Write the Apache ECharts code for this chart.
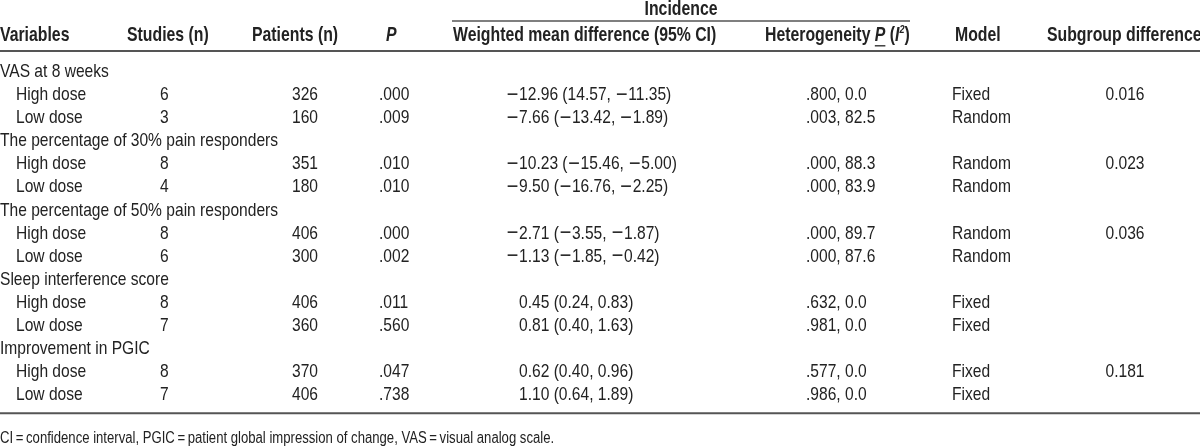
<!DOCTYPE html>
<html><head><meta charset="utf-8">
<script src="https://cdn.jsdelivr.net/npm/echarts@6/dist/echarts.min.js"></script>
<style>html,body{margin:0;padding:0;background:#fff}#c{width:1200px;height:448px}</style>
</head><body><div id="c"></div>
<script>
// ---------- data ----------
const spanHeader = 'Incidence';
const columnHeaders = ['Variables', 'Studies (n)', 'Patients (n)', 'P', 'Weighted mean difference (95% CI)', 'Heterogeneity', 'Model', 'Subgroup difference'];
const outcomes = ['VAS at 8 weeks', 'The percentage of 30% pain responders', 'The percentage of 50% pain responders', 'Sleep interference score', 'Improvement in PGIC'];
const doses = ['High dose', 'Low dose'];
const studies = [[6, 3], [8, 4], [8, 6], [8, 7], [8, 7]];
const patients = [[326, 160], [351, 180], [406, 300], [406, 360], [370, 406]];
const pValues = [['.000', '.009'], ['.010', '.010'], ['.000', '.002'], ['.011', '.560'], ['.047', '.738']];
const wmdEstimate = [[-12.96, -7.66], [-10.23, -9.50], [-2.71, -1.13], [0.45, 0.81], [0.62, 1.10]];
const ciLower = [[14.57, -13.42], [-15.46, -16.76], [-3.55, -1.85], [0.24, 0.40], [0.40, 0.64]];
const ciUpper = [[-11.35, -1.89], [-5.00, -2.25], [-1.87, -0.42], [0.83, 1.63], [0.96, 1.89]];
const hetP = [['.800', '.003'], ['.000', '.000'], ['.000', '.000'], ['.632', '.981'], ['.577', '.986']];
const hetI2 = [[0.0, 82.5], [88.3, 83.9], [89.7, 87.6], [0.0, 0.0], [0.0, 0.0]];
const models = [['Fixed', 'Random'], ['Random', 'Random'], ['Random', 'Random'], ['Fixed', 'Fixed'], ['Fixed', 'Fixed']];
const subgroupDifference = ['0.016', '0.023', '0.036', '', '0.181'];
const footnote = 'CI\u2009=\u2009confidence interval, PGIC\u2009=\u2009patient global impression of change, VAS\u2009=\u2009visual analog scale.';

// ---------- layout (positions / styles) ----------
const FONT = '"Liberation Sans", Arial, sans-serif';
const SX = 0.82; // horizontal condensing of the type
const BODY = '19px ' + FONT;
const HEAD = 'bold 19.3px ' + FONT;
const FOOT = '16px ' + FONT;
const MINUS_FONT = '19px "DejaVu Sans", ' + FONT;
const TXT = '#222';
const RULE = '#555';
const ROW_PX = 23.05, ROW0_PX = 72;
const Y = {span: -2.72, header: -1.57, overline: -2.215, headRule: -0.913, bottomRule: 14.8, foot: 15.9};
const X = {
  varH: 0, studH: 127, patH: 252, pH: 386, wmdH: 453, hetH: 765, modH: 955, subH: 1047,
  label: 0, dose: 16, stud: 160, pat: 292, p: 379, wmd: 506, wmdPosIndent: 13, het: 806, mod: 952, sub: 1125,
  overL: 452, overR: 910
};

const fmt = v => (v < 0 ? '{m|\u2212}' : '') + Math.abs(v).toFixed(2);

const rows = [];
outcomes.forEach((o, g) => {
  rows.push({kind: 'group', g});
  doses.forEach((d, k) => rows.push({kind: 'dose', g, k}));
});

const measure = (() => {
  const ctx = document.createElement('canvas').getContext('2d');
  return (t, f) => { ctx.font = f; return ctx.measureText(t).width * SX; };
})();

function txt(x, y, text, font, align, rich) {
  const style = {text, x: 0, y: 0, font, fill: TXT, textAlign: align || 'left', textVerticalAlign: 'middle'};
  if (rich) style.rich = rich;
  return {type: 'text', x, y, scaleX: SX, scaleY: 1, style};
}

const MINUS_RICH = {m: {font: MINUS_FONT, fill: TXT}};

function renderBody(params, api) {
  const i = api.value(0);
  const r = rows[i];
  const px = (ax) => api.coord([ax, i])[0];
  const y = api.coord([0, i])[1];
  const ch = [];
  if (r.kind === 'group') {
    ch.push(txt(px(X.label), y, outcomes[r.g], BODY));
  } else {
    const g = r.g, k = r.k;
    const est = wmdEstimate[g][k];
    ch.push(txt(px(X.dose), y, doses[k], BODY));
    ch.push(txt(px(X.stud), y, String(studies[g][k]), BODY));
    ch.push(txt(px(X.pat), y, String(patients[g][k]), BODY));
    ch.push(txt(px(X.p), y, pValues[g][k], BODY));
    ch.push(txt(px(X.wmd + (est < 0 ? 0 : X.wmdPosIndent)), y,
      fmt(est) + ' (' + fmt(ciLower[g][k]) + ', ' + fmt(ciUpper[g][k]) + ')', BODY, 'left', MINUS_RICH));
    ch.push(txt(px(X.het), y, hetP[g][k] + ', ' + hetI2[g][k].toFixed(1), BODY));
    ch.push(txt(px(X.mod), y, models[g][k], BODY));
    if (k === 0 && subgroupDifference[g]) ch.push(txt(px(X.sub), y, subgroupDifference[g], BODY, 'center'));
  }
  return {type: 'group', children: ch};
}

function renderFrame(params, api) {
  const c = (ax, ay) => api.coord([ax, ay]);
  const ch = [];
  const line = (x1, x2, yy, w) => {
    const a = c(x1, yy), b = c(x2, yy);
    ch.push({type: 'line', shape: {x1: a[0], y1: a[1], x2: b[0], y2: b[1]}, style: {stroke: RULE, lineWidth: w}});
  };
  line(X.overL, X.overR, Y.overline, 1.4);
  line(0, 1200, Y.headRule, 2);
  line(0, 1200, Y.bottomRule, 2);
  const hy = c(0, Y.header)[1];
  ch.push(txt((c(X.overL, 0)[0] + c(X.overR, 0)[0]) / 2, c(0, Y.span)[1], spanHeader, HEAD, 'center'));
  ch.push(txt(c(X.varH, 0)[0], hy, columnHeaders[0], HEAD));
  ch.push(txt(c(X.studH, 0)[0], hy, columnHeaders[1], HEAD));
  ch.push(txt(c(X.patH, 0)[0], hy, columnHeaders[2], HEAD));
  ch.push(txt(c(X.pH, 0)[0], hy, columnHeaders[3], 'italic ' + HEAD));
  ch.push(txt(c(X.wmdH, 0)[0], hy, columnHeaders[4], HEAD));
  let hx = c(X.hetH, 0)[0];
  const part1 = columnHeaders[5] + ' ';
  ch.push(txt(hx, hy, part1, HEAD));
  hx += measure(part1, HEAD);
  const pw = measure('P', 'italic ' + HEAD);
  ch.push(txt(hx, hy, 'P', 'italic ' + HEAD));
  ch.push({type: 'line', shape: {x1: hx, y1: hy + 10, x2: hx + pw, y2: hy + 10}, style: {stroke: TXT, lineWidth: 1.3}});
  hx += pw;
  ch.push(txt(hx, hy, ' (', HEAD));
  hx += measure(' (', HEAD);
  ch.push(txt(hx, hy, 'I', 'italic ' + HEAD));
  hx += measure('I', 'italic ' + HEAD);
  const SUP = 'italic bold 11px ' + FONT;
  ch.push(txt(hx, hy - 6, '2', SUP));
  hx += measure('2', SUP);
  ch.push(txt(hx, hy, ')', HEAD));
  ch.push(txt(c(X.modH, 0)[0], hy, columnHeaders[6], HEAD));
  ch.push(txt(c(X.subH, 0)[0], hy, columnHeaders[7], HEAD));
  ch.push(txt(c(0, 0)[0], c(0, Y.foot)[1], footnote, FOOT));
  return {type: 'group', children: ch};
}

const chart = echarts.init(document.getElementById('c'), null, {renderer: 'canvas'});
chart.setOption({
  animation: false,
  backgroundColor: '#fff',
  grid: {left: 0, right: 0, top: 0, bottom: 0},
  xAxis: {type: 'value', min: 0, max: 1200, show: false},
  yAxis: {type: 'value', inverse: true, min: -ROW0_PX / ROW_PX, max: (448 - ROW0_PX) / ROW_PX, show: false},
  series: [
    {type: 'custom', renderItem: renderFrame, data: [[0]], silent: true, clip: false},
    {type: 'custom', renderItem: renderBody, data: rows.map((r, i) => [i]), silent: true, clip: false}
  ]
});
</script></body></html>
